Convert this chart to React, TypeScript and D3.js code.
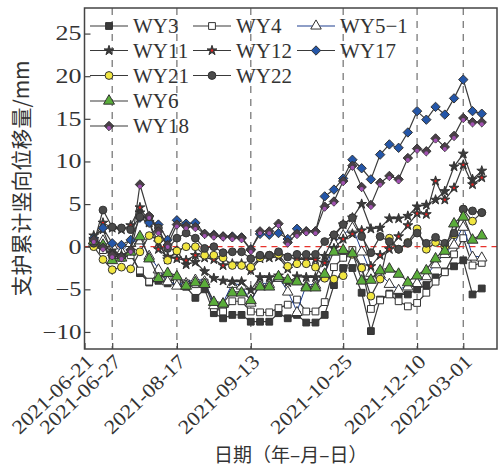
import React, { useEffect, useRef } from "react";
import * as d3 from "d3";

// x tick labels and the point index they sit on
const tickDates = ["2021-06-21", "2021-06-27", "2021-08-17", "2021-09-13", "2021-10-25", "2021-12-10", "2022-03-01"];
const tickIndex = [0, 3, 10, 18, 28, 36, 41];
const yTicks = [-10, -5, 0, 5, 10, 15, 20, 25];

// measurement index 1..43
const pointIndex = d3.range(1, 44);

// series values (mm)
const wy3 = [0.6, 0.2, -0.5, -1.0, -0.6, -3.1, -4.2, -4.0, -4.3, -4.2, -4.7, -6.0, -5.0, -7.8, -8.4, -8.0, -8.0, -8.8, -8.8, -8.8, -7.8, -8.4, -8.0, -8.9, -8.9, -8.0, -4.5, -2.5, -2.5, -5.4, -9.9, -6.2, -5.5, -5.6, -5.6, -5.0, -4.5, -3.6, -2.9, -2.3, -1.6, -5.6, -4.9];
const wy4 = [0.3, -0.4, -1.0, -1.3, -1.0, -2.8, -4.1, -3.2, -3.9, -4.0, -4.3, -4.4, -4.2, -7.2, -7.6, -6.4, -6.4, -7.6, -7.7, -7.7, -7.2, -6.8, -6.2, -7.6, -7.6, -6.5, -2.4, -1.3, -0.4, -2.4, -7.3, -6.3, -5.6, -6.4, -7.0, -6.6, -5.4, -4.1, -3.0, -0.9, 1.0, -2.2, -1.9];
const wy51 = [0.5, 0.8, 0.2, -0.5, 0.5, 0.8, -1.0, -2.6, -4.0, -4.5, -4.2, -3.8, -4.0, -6.8, -6.6, -4.3, -4.5, -6.5, -4.3, -4.3, -3.6, -5.2, -7.6, -4.5, -4.4, -3.2, 0.5, 1.4, 2.3, -0.5, -3.0, -3.2, -4.3, -5.0, -4.6, -4.2, -3.4, -2.0, -0.8, 0.3, 2.4, -1.1, -1.2];
const wy11 = [1.3, 2.0, -0.8, -1.0, -0.5, 4.0, 2.8, 0.5, -1.5, -0.5, -2.1, -1.8, -2.9, -3.7, -4.0, -4.1, -4.1, -5.1, -3.6, -3.6, -3.4, -4.2, -3.5, -3.6, -3.6, -1.1, 1.2, 2.6, 3.4, 5.0, 2.1, 2.2, 3.3, 3.3, 3.6, 4.7, 4.9, 5.5, 6.5, 9.4, 10.9, 7.9, 8.9];
const wy12 = [0.9, 2.8, 2.2, 2.0, 2.5, 4.6, 2.9, -0.3, -1.2, -1.4, -1.6, -1.0, -1.3, -1.5, -2.2, -2.0, -2.0, -2.8, -1.4, -1.3, -1.2, -2.6, -1.5, -1.5, -1.5, -1.9, -0.2, 0.9, 1.5, 1.9, -2.3, -1.0, -0.3, 1.2, 2.5, 3.9, 3.8, 7.7, 5.5, 6.9, 9.6, 7.3, 8.1];
const wy17 = [1.0, 2.2, 0.4, 0.2, 0.8, 3.4, 2.8, 2.6, 0.8, 3.1, 2.7, 2.8, 1.5, 1.4, 1.2, 1.2, 1.1, -0.3, 1.5, 1.4, 1.6, 0.9, 2.1, 1.8, 1.8, 5.9, 6.7, 8.0, 10.2, 9.2, 7.9, 10.8, 12.0, 11.6, 13.4, 15.9, 14.9, 16.4, 15.5, 17.4, 19.6, 15.9, 15.6];
const wy21 = [0.0, -1.5, -2.7, -2.4, -2.6, -0.6, 1.3, 0.8, -1.6, -0.5, 0.0, 0.0, -1.0, -1.0, -1.3, -2.2, -2.2, -2.4, -1.3, -1.0, -0.9, -2.3, -2.0, -2.0, -2.4, -3.7, -3.8, -3.4, -0.9, -2.5, -5.8, -3.8, 1.0, -0.3, 0.5, 2.1, -0.3, 0.5, 0.0, 1.4, 4.4, 3.0, 4.0];
const wy22 = [0.4, 4.3, 2.3, 2.2, 2.0, 3.5, 3.5, 2.2, -0.2, 1.0, 1.6, 1.0, -0.2, 0.0, -0.7, -0.6, -0.6, -1.4, -1.0, -1.0, -0.6, -1.2, -0.9, -0.9, -0.9, 0.6, 1.4, 2.6, 3.4, 1.2, -0.7, 1.2, 0.6, -0.3, 0.4, 1.6, 0.4, 1.1, 0.4, 1.6, 4.4, 4.2, 4.0];
const wy6 = [0.8, 0.3, -1.5, -1.2, -0.5, 1.3, -1.3, -3.6, -3.0, -3.4, -4.5, -4.1, -4.3, -6.4, -6.6, -5.3, -5.3, -6.2, -4.6, -4.6, -3.4, -3.8, -4.0, -4.7, -4.7, -3.1, -0.5, -0.3, -0.7, -3.9, -3.8, -2.7, -2.5, -3.1, -4.1, -3.3, -2.7, -1.3, -0.4, 2.8, 3.6, 0.9, 1.4];
const wy18 = [0.8, -0.1, -1.0, -1.2, -0.4, 7.3, 3.6, 1.8, 0.2, 2.6, 2.4, 2.3, 1.5, 1.3, 1.2, 1.1, 1.0, -0.4, 1.8, 1.8, 2.7, 0.5, 1.5, 1.8, 1.8, 4.7, 5.3, 7.7, 9.5, 7.0, 4.9, 7.5, 8.3, 7.9, 10.4, 11.5, 11.2, 12.7, 11.7, 13.0, 15.1, 14.6, 14.6];

const seriesNames = ["WY3", "WY4", "WY5\u22121", "WY11", "WY12", "WY17", "WY21", "WY22", "WY6", "WY18"];
const seriesValues = [wy3, wy4, wy51, wy11, wy12, wy17, wy21, wy22, wy6, wy18];

// marker style per series
const styles = [
  { shape: d3.symbolSquare, size: 46, fill: "#3a3a3a", line: "#3a3a3a", dot: null },
  { shape: d3.symbolSquare, size: 46, fill: "#ffffff", line: "#3a3a3a", dot: null },
  { shape: d3.symbolTriangle, size: 48, fill: "#ffffff", line: "#1f3f8f", dot: null },
  { shape: d3.symbolStar, size: 30, fill: "#3a3a3a", line: "#3a3a3a", dot: null },
  { shape: d3.symbolStar, size: 30, fill: "#3a3a3a", line: "#3a3a3a", dot: "#e02020" },
  { shape: d3.symbolDiamond2, size: 56, fill: "#2456a8", line: "#3a3a3a", dot: null },
  { shape: d3.symbolCircle, size: 48, fill: "#f1e640", line: "#3a3a3a", dot: null },
  { shape: d3.symbolCircle, size: 48, fill: "#4a4a4a", line: "#3a3a3a", dot: null },
  { shape: d3.symbolTriangle, size: 52, fill: "#5aad3a", line: "#3a3a3a", dot: null },
  { shape: d3.symbolDiamond2, size: 56, fill: "#4a4048", line: "#3a3a3a", dot: "#a050b0" },
];

const legendRows = [0, 0, 0, 1, 1, 1, 2, 2, 3, 4];
const legendCols = [0, 1, 2, 0, 1, 2, 0, 1, 0, 0];

const serif = "'Liberation Serif', 'Times New Roman', serif";
const cjk = "'Noto Sans CJK SC', sans-serif";

const App = () => {
  const svgRef = useRef(null);

  useEffect(() => {
    d3.select(svgRef.current).selectAll("*").remove();

    const w = 498;
    const h = 468;
    const left = 84.5;
    const right = 497;
    const top = 8;
    const bottom = 349;

    const svg = d3.select(svgRef.current).attr("width", w).attr("height", h);

    const xScale = d3.scaleLinear().domain([0, 44.65]).range([left, right]);
    const yScale = d3.scaleLinear().domain([-12, 28]).range([bottom, top]);

    // dashed guide lines
    svg
      .append("g")
      .selectAll("line")
      .data(tickIndex.slice(1))
      .join("line")
      .attr("x1", (d) => xScale(d))
      .attr("x2", (d) => xScale(d))
      .attr("y1", top)
      .attr("y2", bottom)
      .attr("stroke", "#7a7a7a")
      .attr("stroke-width", 1.3)
      .attr("stroke-dasharray", "7,6");

    svg
      .append("line")
      .attr("x1", left)
      .attr("x2", right)
      .attr("y1", yScale(0))
      .attr("y2", yScale(0))
      .attr("stroke", "#e8322c")
      .attr("stroke-width", 1.2)
      .attr("stroke-dasharray", "6,5");

    // axes
    const yAxis = d3
      .axisLeft(yScale)
      .tickValues(yTicks)
      .tickSizeInner(-6)
      .tickSizeOuter(0)
      .tickPadding(3)
      .tickFormat((d) => (d < 0 ? "\u2212" + Math.abs(d) : String(d)));
    const gy = svg.append("g").attr("transform", `translate(${left},0)`).call(yAxis);
    gy.select(".domain").remove();
    gy.selectAll("line").attr("stroke", "#444").attr("stroke-width", 1.2);
    gy.selectAll("text")
      .attr("font-family", serif)
      .attr("font-size", 20)
      .attr("fill", "#333")
      .attr("textLength", function () {
        return this.textContent.length * 13;
      })
      .attr("lengthAdjust", "spacingAndGlyphs");

    const xAxis = d3.axisBottom(xScale).tickValues(tickIndex).tickSizeInner(-6).tickSizeOuter(0).tickFormat(() => "");
    const gx = svg.append("g").attr("transform", `translate(0,${bottom})`).call(xAxis);
    gx.select(".domain").remove();
    gx.selectAll("line").attr("stroke", "#444").attr("stroke-width", 1.2);

    svg
      .append("g")
      .selectAll("text")
      .data(tickIndex)
      .join("text")
      .attr("transform", (d) => `translate(${xScale(d) + 10},${bottom + 14}) rotate(-44)`)
      .attr("text-anchor", "end")
      .attr("font-family", serif)
      .attr("font-size", 20)
      .attr("fill", "#333")
      .attr("textLength", 104)
      .attr("lengthAdjust", "spacingAndGlyphs")
      .text((d, i) => tickDates[i]);

    // lines and markers
    seriesValues.forEach((vals, si) => {
      const st = styles[si];
      const pts = vals.map((v, i) => [pointIndex[i], v]);
      const line = d3
        .line()
        .x((d) => xScale(d[0]))
        .y((d) => yScale(d[1]));
      const g = svg.append("g");
      g.append("path")
        .attr("d", line(pts))
        .attr("fill", "none")
        .attr("stroke", st.line)
        .attr("stroke-width", si === 2 ? 1 : 1.2);
      const sym = d3.symbol().type(st.shape).size(st.size);
      g.selectAll("path.m")
        .data(pts)
        .join("path")
        .attr("class", "m")
        .attr("d", sym)
        .attr("transform", (d) => `translate(${xScale(d[0])},${yScale(d[1]) + (st.shape === d3.symbolTriangle ? 1 : 0)})`)
        .attr("fill", st.fill)
        .attr("stroke", "#333")
        .attr("stroke-width", 1);
      if (st.dot) {
        g.selectAll("circle")
          .data(pts)
          .join("circle")
          .attr("cx", (d) => xScale(d[0]))
          .attr("cy", (d) => yScale(d[1]) + (si === 9 ? 2 : 0))
          .attr("r", si === 9 ? 2 : 1.2)
          .attr("fill", st.dot);
      }
    });

    // frame
    svg
      .append("rect")
      .attr("x", left)
      .attr("y", top)
      .attr("width", right - left)
      .attr("height", bottom - top)
      .attr("fill", "none")
      .attr("stroke", "#444")
      .attr("stroke-width", 1.5);

    // legend
    const legX = [90, 193, 297];
    const legY = [26, 50.5, 75.5, 101, 126];
    const leg = svg.append("g");
    seriesNames.forEach((name, si) => {
      const st = styles[si];
      const x0 = legX[legendCols[si]];
      const y0 = legY[legendRows[si]];
      leg
        .append("line")
        .attr("x1", x0)
        .attr("x2", x0 + 38)
        .attr("y1", y0)
        .attr("y2", y0)
        .attr("stroke", st.line)
        .attr("stroke-width", 1.2);
      leg
        .append("path")
        .attr("d", d3.symbol().type(st.shape).size(st.size)())
        .attr("transform", `translate(${x0 + 19},${y0})`)
        .attr("fill", st.fill)
        .attr("stroke", "#333")
        .attr("stroke-width", 1);
      if (st.dot) {
        leg
          .append("circle")
          .attr("cx", x0 + 19)
          .attr("cy", y0 + (si === 9 ? 2 : 0))
          .attr("r", si === 9 ? 2 : 1.2)
          .attr("fill", st.dot);
      }
      leg
        .append("text")
        .attr("x", x0 + 43)
        .attr("y", y0 + 7)
        .attr("font-family", serif)
        .attr("font-size", 21)
        .attr("fill", "#333")
        .text(name);
    });

    // axis titles
    svg
      .append("text")
      .attr("transform", `translate(29,${(top + bottom) / 2}) rotate(-90)`)
      .attr("text-anchor", "middle")
      .attr("font-family", cjk)
      .attr("font-size", 21)
      .attr("fill", "#333")
      .text("支护累计竖向位移量/mm");

    svg
      .append("text")
      .attr("x", (left + right) / 2)
      .attr("y", 462)
      .attr("text-anchor", "middle")
      .attr("font-family", cjk)
      .attr("font-size", 19)
      .attr("fill", "#333")
      .text("日期（年–月–日）");
  }, []);

  return (
    <div style={{ position: "absolute", left: 0, top: 0 }}>
      <svg ref={svgRef} style={{ display: "block" }}></svg>
    </div>
  );
};

export default App;
